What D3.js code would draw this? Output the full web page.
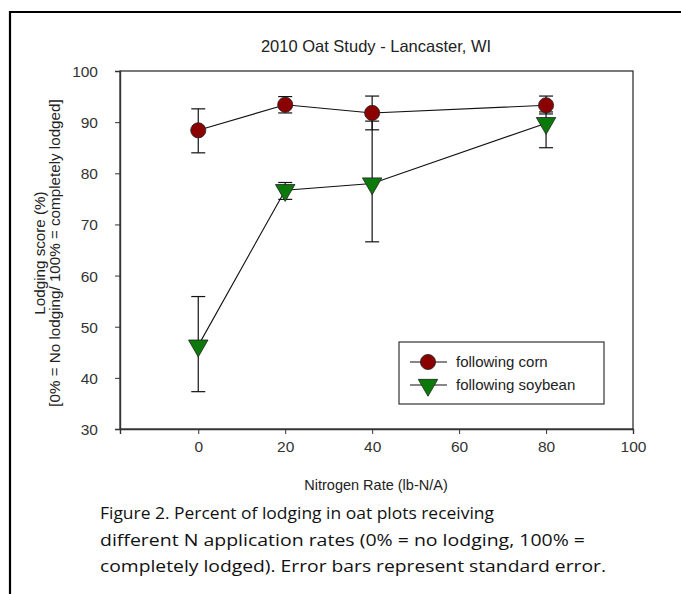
<!DOCTYPE html>
<html><head><meta charset="utf-8">
<script src="https://cdn.jsdelivr.net/npm/d3@7"></script>
<style>body{margin:0;background:#fff}svg{display:block}</style>
</head><body>
<svg id="c" width="681" height="594"></svg>
<script>
const rates = [0, 20, 40, 80];
const cornMean = [88.4, 93.4, 91.8, 93.3];
const cornLow  = [84.0, 91.8, 88.5, 91.6];
const cornHigh = [92.6, 95.0, 95.1, 95.1];
const soyMean  = [46.3, 76.7, 78.0, 89.8];
const soyLow   = [37.3, 74.9, 66.6, 85.0];
const soyHigh  = [55.9, 78.2, 90.2, 92.0];
const xTicks = [0, 20, 40, 60, 80, 100];
const yTicks = [30, 40, 50, 60, 70, 80, 90, 100];
const seriesNames = ["following corn", "following soybean"];
const titleText = "2010 Oat Study - Lancaster, WI";
const xLabel = "Nitrogen Rate (lb-N/A)";
const yLabel1 = "Lodging score (%)";
const yLabel2 = "[0% = No lodging/ 100% = completely lodged]";
const caption = ["Figure 2. Percent of lodging in oat plots receiving",
  "different N application rates (0% = no lodging, 100% =",
  "completely lodged). Error bars represent standard error."];

const svg = d3.select("#c");
const L = 120, R = 633, T = 71, B = 429;
const x = d3.scaleLinear().domain([-18, 100]).range([L, R]);
const y = d3.scaleLinear().domain([30, 100]).range([B, T]);
const font = "'Liberation Sans', Arial, sans-serif";

// outer frame
svg.append("path").attr("d", `M10,594 L10,12 L681,12`).attr("fill","none").attr("stroke","#000").attr("stroke-width",2.2);

// title
svg.append("text").attr("x", 376).attr("y", 52).attr("text-anchor","middle")
  .attr("font-family", font).attr("font-size", 16.5).attr("fill","#222").text(titleText);

// plot box
svg.append("rect").attr("x", L).attr("y", T).attr("width", R-L).attr("height", B-T)
  .attr("fill","none").attr("stroke","#222").attr("stroke-width",1.2);

// axes
const xAxis = svg.append("g").attr("transform", `translate(0,${B})`)
  .call(d3.axisBottom(x).tickValues(xTicks).tickSize(5).tickPadding(7).tickFormat(d3.format("d")));
const yAxis = svg.append("g").attr("transform", `translate(${L},0)`)
  .call(d3.axisLeft(y).tickValues(yTicks).tickSize(5).tickPadding(17).tickFormat(d3.format("d")));
[xAxis, yAxis].forEach(g => {
  g.select(".domain").attr("stroke","#333").attr("stroke-width",1.4);
  g.selectAll(".tick line").attr("stroke","#333");
  g.selectAll(".tick text").attr("font-family", font).attr("font-size", 15.5).attr("fill","#333");
});
yAxis.selectAll(".tick text").attr("dy","0.35em");

// axis labels
svg.append("text").attr("x", 376).attr("y", 490).attr("text-anchor","middle")
  .attr("font-family", font).attr("font-size", 14.5).attr("fill","#222").text(xLabel);
const yl = svg.append("g").attr("transform", `translate(0,${(T+B)/2 + 3}) rotate(-90)`);
yl.append("text").attr("x",0).attr("y",45).attr("text-anchor","middle")
  .attr("font-family", font).attr("font-size", 15.2).attr("fill","#222").text(yLabel1);
yl.append("text").attr("x",0).attr("y",60).attr("text-anchor","middle")
  .attr("font-family", font).attr("font-size", 15.2).attr("fill","#222").text(yLabel2);

const series = [
  {mean: cornMean, lo: cornLow, hi: cornHigh, fill: "#8b0000", shape: d3.symbolCircle, size: 180},
  {mean: soyMean, lo: soyLow, hi: soyHigh, fill: "#0b7a0b", shape: d3.symbolTriangle, size: 165}
];

const line = d3.line().x((d,i)=>x(rates[i])).y(d=>y(d));
series.forEach(s => {
  svg.append("path").attr("d", line(s.mean)).attr("fill","none").attr("stroke","#111").attr("stroke-width",1.1);
});
series.forEach(s => {
  const g = svg.append("g");
  rates.forEach((r,i) => {
    const cx = x(r);
    g.append("line").attr("x1",cx).attr("x2",cx).attr("y1",y(s.lo[i])).attr("y2",y(s.hi[i])).attr("stroke","#111").attr("stroke-width",1.2);
    [s.lo[i], s.hi[i]].forEach(v => g.append("line").attr("x1",cx-7).attr("x2",cx+7).attr("y1",y(v)).attr("y2",y(v)).attr("stroke","#111").attr("stroke-width",1.2));
  });
});
series.forEach(s => {
  rates.forEach((r,i) => {
    const rot = s.shape === d3.symbolTriangle ? " rotate(180)" : "";
    svg.append("path").attr("d", d3.symbol().type(s.shape).size(s.size)())
      .attr("transform", `translate(${x(r)},${y(s.mean[i])})${rot}`)
      .attr("fill", s.fill).attr("stroke","#222").attr("stroke-width",0.8);
  });
});

// legend
svg.append("rect").attr("x",399).attr("y",342).attr("width",205).attr("height",62)
  .attr("fill","#fff").attr("stroke","#333").attr("stroke-width",1.2);
series.forEach((s,k) => {
  const ly = 362 + k*23;
  svg.append("line").attr("x1",410).attr("x2",447).attr("y1",ly).attr("y2",ly).attr("stroke","#111").attr("stroke-width",1.1);
  const rot = s.shape === d3.symbolTriangle ? " rotate(180)" : "";
  svg.append("path").attr("d", d3.symbol().type(s.shape).size(s.size)())
    .attr("transform", `translate(428,${ly})${rot}`).attr("fill", s.fill).attr("stroke","#222").attr("stroke-width",0.8);
  svg.append("text").attr("x",456).attr("y",ly).attr("dy","0.35em")
    .attr("font-family", font).attr("font-size",15).attr("fill","#222").text(seriesNames[k]);
});

// caption
const capW = [394, 485, 506];
caption.forEach((t,i) => {
  svg.append("text").attr("x",100).attr("y",519 + i*26.5)
    .attr("font-family","'Open Sans', 'Noto Sans', sans-serif").attr("font-size",17).attr("fill","#111")
    .attr("textLength", capW[i]).attr("lengthAdjust","spacingAndGlyphs").text(t);
});
</script>
</body></html>
